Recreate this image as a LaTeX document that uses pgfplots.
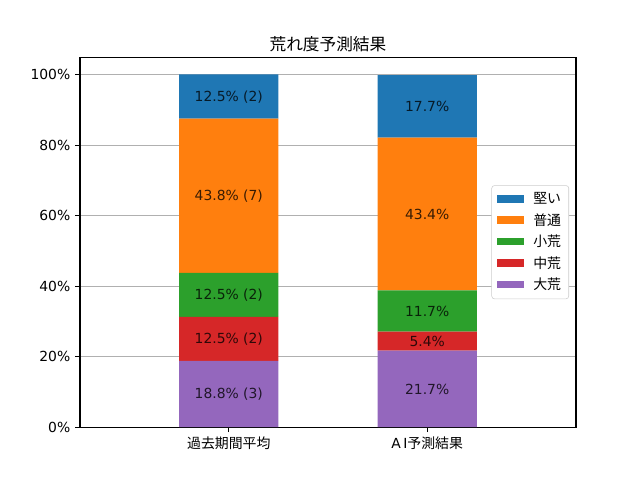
\documentclass[border=0pt]{standalone}
\usepackage{pgfplots}
\pgfplotsset{compat=1.18}
\usepackage{pgfplotstable}
\usepackage{fontspec}
\setmainfont{DejaVu Sans}
\newfontfamily\cjk{Noto Sans CJK JP}
\definecolor{tabblue}{HTML}{1F77B4}
\definecolor{taborange}{HTML}{FF7F0E}
\definecolor{tabgreen}{HTML}{2CA02C}
\definecolor{tabred}{HTML}{D62728}
\definecolor{tabpurple}{HTML}{9467BD}
\definecolor{gridgray}{HTML}{B0B0B0}
\pgfplotstableread[col sep=comma]{
x,y,label
0,9.4,18.8\% (3)
0,25.05,12.5\% (2)
0,37.55,12.5\% (2)
0,65.7,43.8\% (7)
0,93.75,12.5\% (2)
1,10.85,21.7\%
1,24.4,5.4\%
1,32.95,11.7\%
1,60.5,43.4\%
1,91.1,17.7\%
}\labeltable
\begin{document}
\begin{tikzpicture}
\useasboundingbox (-57.6pt,-38.016pt) rectangle (403.2pt,307.584pt);
\pgfplotsset{
  base/.style={
    scale only axis, width=357.12pt, height=266.4pt,
    xmin=-0.75, xmax=1.75, ymin=0, ymax=105,
    /pgf/number format/assume math mode=true,
  }
}
\begin{axis}[base,
  ybar stacked, bar width=0.5,
  axis line style={black, line width=0.8pt},
  xtick={0,1}, xticklabels={{\cjk 過去期間平均},{A\,I\cjk 予測結果}},
  ytick={0,20,40,60,80,100},
  yticklabels={0\%,20\%,40\%,60\%,80\%,100\%},
  tick align=outside, tick pos=lower,
  major tick length=3.5pt,
  tick style={black, line width=0.8pt},
  ymajorgrids, grid style={gridgray, line width=0.8pt},
  tick label style={font=\fontsize{10}{12}\selectfont},
  title={\cjk 荒れ度予測結果},
  title style={font=\fontsize{12}{14}\selectfont, yshift=-5.5pt},
  legend style={at={(0.986,0.5)}, anchor=east, draw=gray!40, rounded corners=2pt,
    font=\fontsize{10}{12}\selectfont\cjk, row sep=1.6pt, inner xsep=3.5pt, inner ysep=3pt, fill=white},
  legend cell align=left,
  reverse legend,
  legend image code/.code={\fill[#1, sharp corners] (0pt,-2.5pt) rectangle (20pt,3pt);},
  every axis plot/.append style={draw=none},
]
\addplot[fill=tabpurple] coordinates {(0,18.8) (1,21.7)};
\addplot[fill=tabred] coordinates {(0,12.5) (1,5.4)};
\addplot[fill=tabgreen] coordinates {(0,12.5) (1,11.7)};
\addplot[fill=taborange] coordinates {(0,43.8) (1,43.4)};
\addplot[fill=tabblue] coordinates {(0,12.5) (1,17.7)};
\legend{\ \ 大荒,\ \ 中荒,\ \ 小荒,\ \ 普通,\ \ 堅い}
\end{axis}
\begin{axis}[base, hide axis]
\addplot[only marks, mark=none, nodes near coords, point meta=explicit symbolic,
  every node near coord/.style={anchor=center, font=\fontsize{10}{12}\selectfont, text=black, text opacity=0.78}]
  table[x=x, y=y, meta=label] {\labeltable};
\end{axis}
\end{tikzpicture}
\end{document}
